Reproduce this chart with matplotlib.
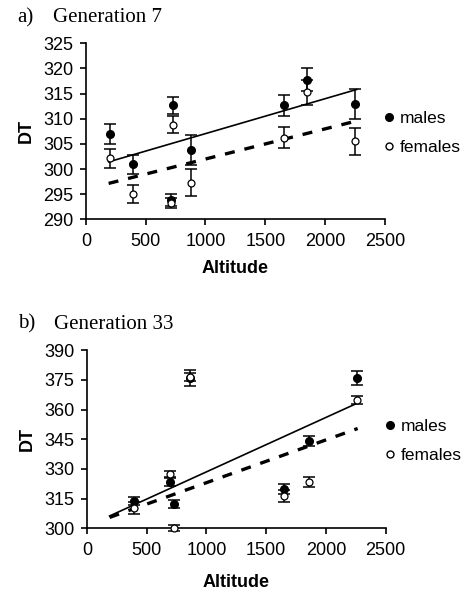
import numpy as np
import matplotlib
matplotlib.use('Agg')
import matplotlib.pyplot as plt
from matplotlib.lines import Line2D

# Generation 7
alt_a = [200, 396, 727, 875, 708, 1655, 1848, 2252]
males_a = [307.0, 300.9, 312.7, 303.8, 293.9, 312.7, 317.8, 312.9]
males_a_err = [2.0, 1.8, 1.7, 3.0, 1.2, 2.1, 2.2, 3.0]
females_a = [302.1, 295.0, 308.8, 297.3, 293.2, 306.2, 315.3, 305.5]
females_a_err = [1.9, 1.8, 1.7, 2.7, 1.0, 2.1, 2.5, 2.7]
trend_a_males = (0.00694, 300.1)
trend_a_females = (0.00599, 296.0)

# Generation 33
alt_b = [398, 696, 729, 863, 1648, 1860, 2258]
males_b = [313.8, 323.5, 312.1, 375.7, 320.0, 344.1, 375.7]
males_b_err = [2.0, 2.0, 2.0, 4.0, 2.5, 2.5, 3.5]
females_b = [310.1, 327.2, 300.3, 376.5, 316.5, 323.5, 364.8]
females_b_err = [3.0, 1.5, 1.5, 2.0, 3.0, 2.5, 2.0]
trend_b_males = (0.0275, 301.0)
trend_b_females = (0.02163, 301.4)

trend_x = [190, 2265]

plt.rcParams['font.family'] = 'Liberation Sans'
plt.rcParams['font.size'] = 13

fig = plt.figure(figsize=(4.67, 5.94), dpi=100)
ax_a = fig.add_axes([0.184, 0.6308, 0.640, 0.2963])
ax_b = fig.add_axes([0.186, 0.1106, 0.640, 0.300])


def draw(ax, alt, males, m_err, females, f_err, tm, tf, ylim, yticks, letter, title):
    x = np.array(trend_x)
    ax.plot(x, tm[0] * x + tm[1], color='black', lw=1.2)
    ax.plot(x, tf[0] * x + tf[1], color='black', lw=2.4, dashes=(3, 3))
    for vals, err in [(males, m_err), (females, f_err)]:
        eb = ax.errorbar(alt, vals, yerr=err, fmt='none', ecolor='black',
                         elinewidth=1.1, capsize=4.5, capthick=1.1)
        for art in eb.lines[1] + eb.lines[2]:
            art.set_clip_on(False)
    ax.plot(alt, males, 'o', color='black', ms=5.5, ls='none', zorder=4,
            clip_on=False)
    ax.plot(alt, females, 'o', mfc='white', mec='black', mew=0.9, ms=5,
            ls='none', zorder=5, clip_on=False)
    ax.set_xlim(0, 2500)
    ax.set_ylim(*ylim)
    ax.set_yticks(yticks)
    ax.set_xticks([0, 500, 1000, 1500, 2000, 2500])
    for s in ['top', 'right']:
        ax.spines[s].set_visible(False)
    for s in ['left', 'bottom']:
        ax.spines[s].set_linewidth(1.2)
    ax.tick_params(direction='out', length=4, width=1.2, labelsize=13)
    ax.tick_params(axis='x', pad=6)
    ax.tick_params(axis='y', pad=5)
    ax.set_ylabel('DT', fontweight='bold', fontsize=13, labelpad=6)
    ax.set_xlabel('Altitude', fontweight='bold', fontsize=13)
    handles = [Line2D([], [], marker='o', color='black', ls='none', ms=5.5),
               Line2D([], [], marker='o', mfc='white', mec='black', ls='none', ms=5)]
    ax.legend(handles, ['males', 'females'], loc='center left',
              bbox_to_anchor=(0.975, 0.49), frameon=False, handlelength=0.6,
              handletextpad=0.3, labelspacing=0.8, fontsize=12.5, borderaxespad=0)
    ax.text(-0.23, 1.12, letter, transform=ax.transAxes,
            family='Liberation Serif', fontsize=15)
    ax.text(-0.11, 1.12, title, transform=ax.transAxes,
            family='Liberation Serif', fontsize=15)


draw(ax_a, alt_a, males_a, males_a_err, females_a, females_a_err,
     trend_a_males, trend_a_females, (290, 325), range(290, 326, 5),
     'a)', 'Generation 7')
draw(ax_b, alt_b, males_b, males_b_err, females_b, females_b_err,
     trend_b_males, trend_b_females, (300, 390), range(300, 391, 15),
     'b)', 'Generation 33')

ax_a.xaxis.labelpad = 7
ax_b.xaxis.labelpad = 11

fig.savefig('out.png', dpi=100)
